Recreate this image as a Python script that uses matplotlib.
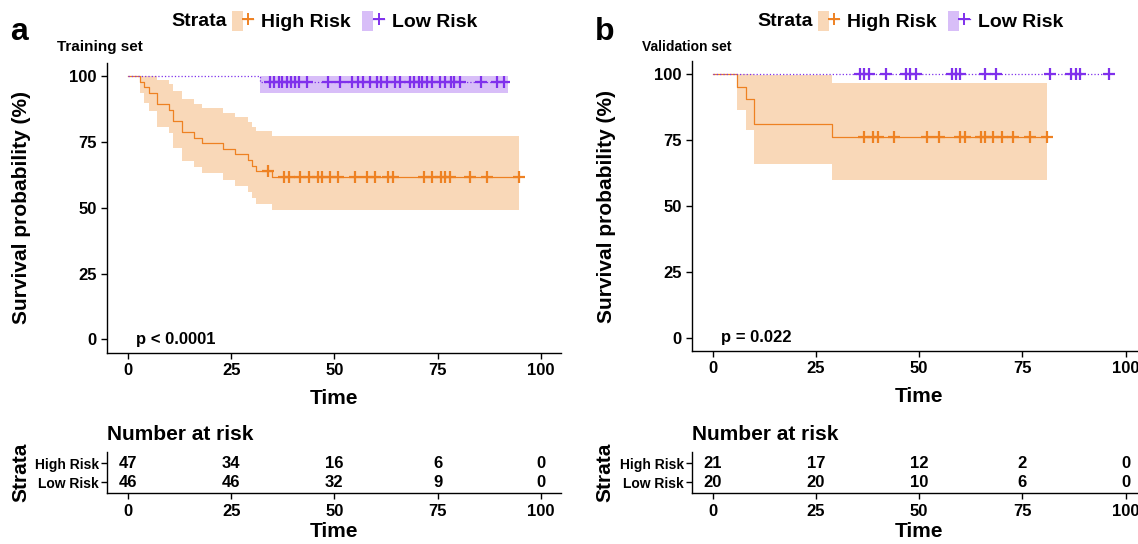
import numpy as np
import matplotlib
matplotlib.use("Agg")
import matplotlib.pyplot as plt
from matplotlib.patches import Patch
from matplotlib.lines import Line2D
from matplotlib.legend_handler import HandlerTuple

plt.rcParams['font.family'] = ['Liberation Sans', 'DejaVu Sans']
plt.rcParams['font.weight'] = 'bold'
plt.rcParams['axes.labelweight'] = 'bold'
plt.rcParams['axes.titleweight'] = 'bold'

# ---- training set ----
tr_high_t = [0, 3, 4, 5, 7, 10, 11, 13, 16, 18, 23, 26, 29, 30, 31, 35]
tr_high_s = [100, 97.9, 95.7, 93.6, 89.4, 87.2, 83.0, 78.7, 76.6, 74.5, 72.3, 70.2, 68.1, 66.0, 63.8, 61.6]
tr_high_lo = [100, 93.7, 89.9, 86.8, 80.8, 78.2, 72.8, 67.8, 65.3, 63.0, 60.5, 58.2, 56.1, 53.8, 51.4, 49.1]
tr_high_hi = [100, 100, 100, 100, 98.5, 97.0, 94.2, 91.1, 89.5, 87.8, 86.1, 84.4, 82.7, 80.8, 79.0, 77.1]
tr_high_end = 94.8
tr_high_cens = [33.9, 37.9, 38.9, 41.7, 43.8, 46.0, 47.0, 49.0, 51.0, 55.0, 57.9, 59.9, 63.0, 64.2,
                71.7, 73.7, 75.9, 76.9, 77.9, 82.8, 86.9, 94.8]

tr_low_t = [0, 32]
tr_low_s = [100, 97.8]
tr_low_lo = [100, 93.4]
tr_low_hi = [100, 100]
tr_low_end = 92.0
tr_low_cens = [34.5, 35.5, 36.5, 37.4, 38.5, 39.5, 40.5, 41.5, 43.3, 48.4, 51.4, 54.2, 55.7, 57.0,
               58.7, 60.3, 61.3, 62.7, 64.8, 66.0, 68.4, 69.4, 70.4, 71.3, 72.4, 73.6, 75.6, 76.8,
               78.3, 79.1, 80.5, 85.5, 89.5, 91.0]

tr_risk_high = [47, 34, 16, 6, 0]
tr_risk_low = [46, 46, 32, 9, 0]

# ---- validation set ----
va_high_t = [0, 6, 8, 10, 29]
va_high_s = [100, 95.2, 90.5, 81.0, 76.2]
va_high_lo = [100, 86.6, 78.8, 65.8, 60.0]
va_high_hi = [100, 100, 100, 99.6, 96.8]
va_high_end = 80.9
va_high_cens = [36.6, 38.9, 40.1, 43.9, 52.0, 54.9, 59.9, 61.1, 64.9, 65.9, 67.9, 70.0, 72.8, 76.8, 80.9]

va_low_t = [0]
va_low_s = [100]
va_low_lo = [100]
va_low_hi = [100]
va_low_end = 96.0
va_low_cens = [35.6, 36.6, 37.9, 42.0, 46.8, 47.9, 49.2, 57.9, 58.9, 60.0, 65.9, 68.7, 81.8, 86.9,
               88.1, 88.9, 96.0]

va_risk_high = [21, 17, 12, 2, 0]
va_risk_low = [20, 20, 10, 6, 0]

risk_times = [0, 25, 50, 75, 100]
strata = ['High Risk', 'Low Risk']

c_high = '#EE8122'
c_low = '#7F30EC'
f_high = '#F9D8B8'
f_low = '#D8BEF8'

W, H = 1138, 544
fig = plt.figure(figsize=(W / 100, H / 100), dpi=100)


def px_axes(x0, y0, x1, y1):
    return fig.add_axes([x0 / W, 1 - y1 / H, (x1 - x0) / W, (y1 - y0) / H])


def km(ax, t, s, lo, hi, end, cens, color, fill, ls):
    tt = np.append(t, end)
    ax.fill_between(tt, np.append(lo, lo[-1]), np.append(hi, hi[-1]), step='post',
                    color=fill, linewidth=0)
    ax.step(tt, np.append(s, s[-1]), where='post', color=color, lw=0.9, ls=ls)
    idx = np.searchsorted(t, cens, side='right') - 1
    ax.plot(cens, np.array(s)[idx], ls='none', marker='+', ms=8, mew=1.6, color=color)


def style(ax):
    for sp in ['top', 'right']:
        ax.spines[sp].set_visible(False)
    ax.spines['left'].set_linewidth(1.0)
    ax.spines['bottom'].set_linewidth(1.0)
    ax.tick_params(length=4, width=1, labelsize=12, colors='black')
    ax.set_xlim(-5, 105)
    ax.set_xticks(risk_times)


def panel(x0, y0, tabtop, high, low, risk_h, risk_l, pval, letter, title, tsize, lx):
    ax = px_axes(x0, y0, x0 + 454.1, y0 + 289.8)
    km(ax, *high, c_high, f_high, '-')
    km(ax, *low, c_low, f_low, ':')
    style(ax)
    ax.set_ylim(-5, 105)
    ax.set_yticks([0, 25, 50, 75, 100])
    ax.set_xlabel('Time', fontsize=15, labelpad=8)
    ax.set_ylabel('Survival probability (%)', fontsize=15)
    ax.yaxis.set_label_coords(-0.168, 0.5)
    ax.text(2, 0, pval, fontsize=12, ha='left', va='center')

    tab = px_axes(x0, tabtop, x0 + 454.1, tabtop + 41.8)
    style(tab)
    tab.set_ylim(0.4, 2.6)
    tab.set_yticks([2, 1])
    tab.set_yticklabels(strata, fontsize=10)
    tab.tick_params(axis='y', pad=2)
    for x, a, b in zip(risk_times, risk_h, risk_l):
        tab.text(x, 2, str(a), ha='center', va='center', fontsize=12)
        tab.text(x, 1, str(b), ha='center', va='center', fontsize=12)
    tab.set_xlabel('Time', fontsize=15, labelpad=2)
    tab.set_ylabel('Strata', fontsize=15)
    tab.yaxis.set_label_coords(-0.17, 0.5)
    tab.set_title('Number at risk', loc='left', fontsize=15, pad=8)

    fig.text((x0 - 97) / W, 1 - 32 / H, letter, fontsize=23, va='center', ha='left')
    fig.text((x0 - 50) / W, 1 - 47 / H, title, fontsize=tsize, va='center', ha='left')

    fig.text(lx / W, 1 - 21 / H, 'Strata', fontsize=14, va='center', ha='left')
    hh = (Patch(color=f_high, lw=0), Line2D([], [], color=c_high, marker='+', ms=8, mew=1.4, lw=0.9))
    hl = (Patch(color=f_low, lw=0), Line2D([], [], color=c_low, marker='+', ms=8, mew=1.4, lw=0.9))
    fig.legend([hh, hl], strata, handler_map={tuple: HandlerTuple(ndivide=None)},
               loc='center left', bbox_to_anchor=((lx + 61) / W, 1 - 21 / H), ncol=2,
               frameon=False, fontsize=14, handlelength=1.1, handleheight=1.2,
               handletextpad=0.4, columnspacing=0.6, borderpad=0, borderaxespad=0)


panel(107.3, 62.8, 451.6,
      (tr_high_t, tr_high_s, tr_high_lo, tr_high_hi, tr_high_end, tr_high_cens),
      (tr_low_t, tr_low_s, tr_low_lo, tr_low_hi, tr_low_end, tr_low_cens),
      tr_risk_high, tr_risk_low, 'p < 0.0001', 'a', 'Training set', 11, 171)
panel(692.05, 61.15, 451.6,
      (va_high_t, va_high_s, va_high_lo, va_high_hi, va_high_end, va_high_cens),
      (va_low_t, va_low_s, va_low_lo, va_low_hi, va_low_end, va_low_cens),
      va_risk_high, va_risk_low, 'p = 0.022', 'b', 'Validation set', 10, 757)

fig.savefig('out.png', dpi=100)
